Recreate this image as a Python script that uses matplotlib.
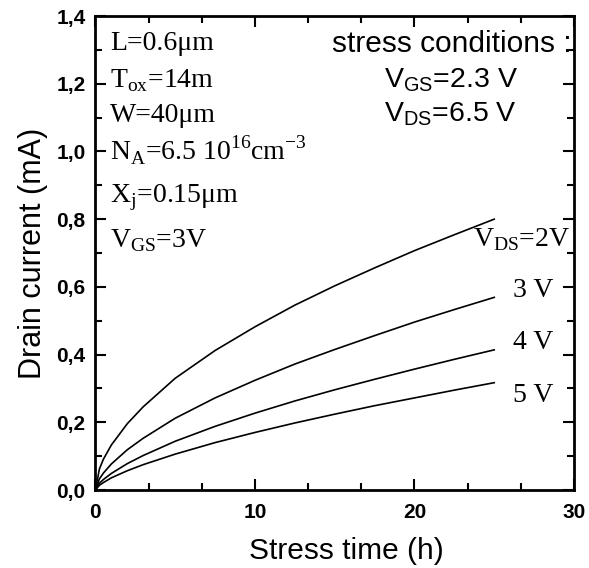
import matplotlib
matplotlib.use("Agg")
import matplotlib.pyplot as plt
from matplotlib.ticker import MultipleLocator

# Data
t = [0, 0.25, 0.5, 1, 2, 3, 5, 7.5, 10, 12.5, 15, 17.5, 20, 22.5, 25]
i_vds2 = [0, 0.062, 0.091, 0.133, 0.196, 0.246, 0.330, 0.412, 0.482, 0.546, 0.603, 0.656, 0.707, 0.754, 0.800]
i_vds3 = [0, 0.033, 0.050, 0.077, 0.119, 0.153, 0.212, 0.272, 0.324, 0.372, 0.415, 0.456, 0.496, 0.533, 0.569]
i_vds4 = [0, 0.020, 0.031, 0.049, 0.078, 0.102, 0.144, 0.188, 0.227, 0.263, 0.296, 0.327, 0.357, 0.386, 0.414]
i_vds5 = [0, 0.014, 0.022, 0.036, 0.057, 0.075, 0.106, 0.140, 0.170, 0.198, 0.224, 0.249, 0.272, 0.295, 0.317]
series = [i_vds2, i_vds3, i_vds4, i_vds5]

xticks = [0, 10, 20, 30]
xticklabels = ["0", "10", "20", "30"]
yticks = [0.0, 0.2, 0.4, 0.6, 0.8, 1.0, 1.2, 1.4]
yticklabels = ["0,0", "0,2", "0,4", "0,6", "0,8", "1,0", "1,2", "1,4"]

plt.rcParams["mathtext.fontset"] = "custom"
plt.rcParams["mathtext.rm"] = "Liberation Serif"

fig = plt.figure(figsize=(5.89, 5.68), dpi=100)
ax = fig.add_axes([0.162, 0.1373, 0.8125, 0.8345])

for s in series:
    ax.plot(t, s, color="black", lw=1.2)

ax.set_xlim(0, 30)
ax.set_ylim(0, 1.4)
ax.set_xticks(xticks)
ax.set_xticklabels(xticklabels)
ax.set_yticks(yticks)
ax.set_yticklabels(yticklabels)
ax.xaxis.set_minor_locator(MultipleLocator(10 / 3))
ax.yaxis.set_minor_locator(MultipleLocator(0.1))
ax.tick_params(which="both", direction="in", top=True, right=True, width=1.5)
ax.tick_params(which="major", length=8, labelsize=15)
ax.tick_params(axis="x", which="major", pad=9)
ax.tick_params(axis="y", which="major", pad=7)
ax.tick_params(which="minor", length=5)
for lab in ax.get_xticklabels() + ax.get_yticklabels():
    lab.set_fontfamily("Liberation Sans")
    lab.set_fontweight("bold")
for sp in ax.spines.values():
    sp.set_linewidth(2)

ax.set_xlabel("Stress time (h)", fontfamily="Liberation Sans", fontsize=21.5, labelpad=10)
ax.xaxis.set_label_coords(0.525, -0.1)
ax.set_ylabel("Drain current (mA)", fontfamily="Liberation Sans", fontsize=22, labelpad=6)

serif = dict(fontfamily="Liberation Serif", fontsize=20, color="black")
left_x = 0.9
ax.text(left_x, 1.300, "L=0.6μm", **serif)
ax.text(left_x, 1.190, r"T$_{\mathregular{ox}}$=14m", **serif)
ax.text(left_x, 1.087, "W=40μm", **serif)
ax.text(left_x, 0.975, r"N$_{\mathregular{A}}$=6.5 10$^{\mathregular{16}}$cm$^{\mathregular{-3}}$", **serif)
ax.text(left_x, 0.851, r"X$_{\mathregular{j}}$=0.15μm", **serif)
ax.text(left_x, 0.718, r"V$_{\mathregular{GS}}$=3V", **serif)

ax.text(29.75, 0.720, r"V$_{\mathregular{DS}}$=2V", ha="right", **serif)
ax.text(28.7, 0.570, "3 V", ha="right", **serif)
ax.text(28.7, 0.417, "4 V", ha="right", **serif)
ax.text(28.7, 0.260, "5 V", ha="right", **serif)

ax.text(29.85, 1.295, "stress conditions :", ha="right",
        fontfamily="Liberation Sans", fontsize=21.5, color="black")
sans = dict(fontfamily="Liberation Sans", fontsize=20.5, color="black")
ax.text(18.1, 1.191, r"V$_{\mathregular{GS}}$=2.3 V", **sans)
ax.text(18.1, 1.088, r"V$_{\mathregular{DS}}$=6.5 V", **sans)

fig.savefig("out.png", dpi=100)
